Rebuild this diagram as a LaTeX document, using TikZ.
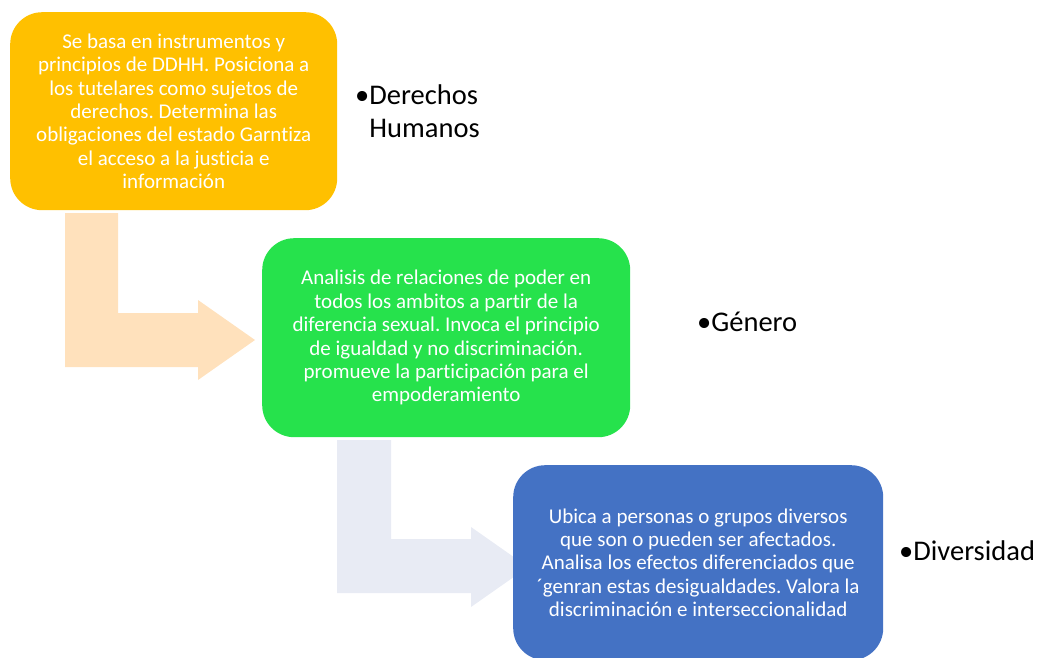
\documentclass[tikz,border=0pt]{standalone}
\usepackage{fontspec}
\setmainfont{Carlito}[Ligatures=NoCommon]
\frenchspacing
\definecolor{cOrange}{HTML}{FFC000}
\definecolor{cGreen}{HTML}{26E24C}
\definecolor{cBlue}{HTML}{4472C4}
\definecolor{cArrA}{HTML}{FFE1BC}
\definecolor{cArrB}{HTML}{E8EBF4}
\tikzset{
  box/.style={rectangle, rounded corners=32pt, draw=none, inner sep=0pt, anchor=north west,
    text=white, align=center, font=\fontsize{21}{23.4}\selectfont},
  lbl/.style={inner sep=0pt, anchor=base west, text=black, font=\fontsize{28.5}{33}\selectfont}
}
\begin{document}
\begin{tikzpicture}[x=1pt,y=-1pt]
\useasboundingbox (0,0) rectangle (1038,657);
% bent arrows (drawn behind the boxes)
\fill[cArrA] (65,213) -- (118,213) -- (118,313) -- (198,313) -- (198,300) -- (255,340)
  -- (198,380) -- (198,367) -- (65,367) -- cycle;
\fill[cArrB] (337,440) -- (391,440) -- (391,539) -- (471,539) -- (471,527) -- (528,567)
  -- (471,607) -- (471,593) -- (337,593) -- cycle;
% boxes
\node[box, fill=cOrange, minimum width=327pt, minimum height=198pt] (b1) at (10,12)
  {Se basa en instrumentos y\\principios de DDHH. Posiciona a\\los tutelares como sujetos de\\derechos. Determina las\\obligaciones del estado Garntiza\\el acceso a la justicia e\\información};
\node[box, fill=cGreen, minimum width=368pt, minimum height=199pt] (b2) at (262,238)
  {Analisis de relaciones de poder en\\todos los ambitos a partir de la\\diferencia sexual. Invoca el principio\\de igualdad y no discriminación.\\promueve la participación para el\\empoderamiento};
\node[box, fill=cBlue, minimum width=370pt, minimum height=195pt] (b3) at (513,465)
  {Ubica a personas o grupos diversos\\que son o pueden ser afectados.\\Analisa los efectos diferenciados que\\´genran estas desigualdades. Valora la\\discriminación e interseccionalidad};
% labels
\node[lbl] (l1) at (355,104) {•\begin{tabular}[t]{@{}l@{}}Derechos\\Humanos\end{tabular}};
\node[lbl] (l2) at (697,331) {•Género};
\node[lbl] (l3) at (899,560) {•Diversidad};
\end{tikzpicture}
\end{document}
